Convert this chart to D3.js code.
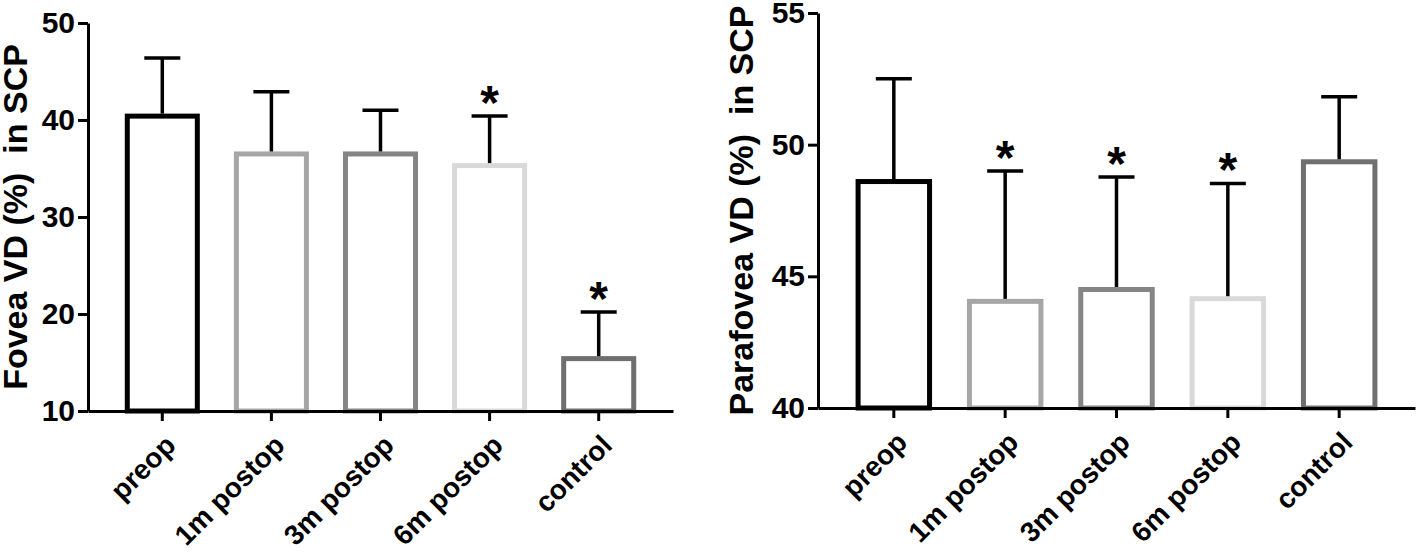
<!DOCTYPE html>
<html>
<head>
<meta charset="utf-8">
<script src="https://cdn.jsdelivr.net/npm/d3@7"></script>
<style>
  body { margin: 0; background: #fff; }
  text { font-family: "Liberation Sans", Arial, sans-serif; font-weight: bold; }
</style>
</head>
<body>
<div id="chart"></div>
<script>
const categories = ["preop", "1m postop", "3m postop", "6m postop", "control"];
const barColors = ["#000000", "#a6a6a6", "#858585", "#d9d9d9", "#6f6f6f"];

const foveaMean = [40.4, 36.5, 36.5, 35.3, 15.4];
const foveaSD = [6.0, 6.4, 4.5, 5.1, 4.8];
const foveaStar = [false, false, false, true, true];
const foveaTicks = [10, 20, 30, 40, 50];

const parafoveaMean = [48.6, 44.05, 44.5, 44.15, 49.35];
const parafoveaSD = [3.9, 4.95, 4.27, 4.38, 2.47];
const parafoveaStar = [false, true, true, true, false];
const parafoveaTicks = [40, 45, 50, 55];

const svg = d3.select("#chart").append("svg").attr("width", 1418).attr("height", 554);

function drawPanel(p) {
  const g = svg.append("g");

  const x = d3.scaleBand().domain(categories).range([p.left, p.right])
    .paddingInner(0.358).paddingOuter(0.36);
  const y = d3.scaleLinear().domain(p.domain).range([p.bottom, p.top]);

  const rows = categories.map((c, i) => ({ cat: c, mean: p.mean[i], sd: p.sd[i], star: p.star[i], color: barColors[i] }));

  // bars
  g.selectAll("rect.bar").data(rows).enter().append("rect")
    .attr("class", "bar")
    .attr("x", d => x(d.cat))
    .attr("y", d => y(d.mean))
    .attr("width", x.bandwidth())
    .attr("height", d => y(p.domain[0]) - y(d.mean))
    .attr("fill", "#fff")
    .attr("stroke", d => d.color)
    .attr("stroke-width", 5);

  // error bars (upper only)
  const cx = d => x(d.cat) + x.bandwidth() / 2;
  g.selectAll("line.err").data(rows).enter().append("line")
    .attr("x1", cx).attr("x2", cx)
    .attr("y1", d => y(d.mean) - 2.5)
    .attr("y2", d => y(d.mean + d.sd))
    .attr("stroke", "#000").attr("stroke-width", 3.5);
  g.selectAll("line.cap").data(rows).enter().append("line")
    .attr("x1", d => cx(d) - 18).attr("x2", d => cx(d) + 18)
    .attr("y1", d => y(d.mean + d.sd))
    .attr("y2", d => y(d.mean + d.sd))
    .attr("stroke", "#000").attr("stroke-width", 3.5);

  // significance stars
  g.selectAll("text.star").data(rows.filter(d => d.star)).enter().append("text")
    .attr("x", cx)
    .attr("y", d => y(d.mean + d.sd) + 3)
    .attr("text-anchor", "middle")
    .style("font-size", "48px")
    .text("*");

  // axes
  const yAxis = g.append("g")
    .attr("transform", "translate(" + p.left + ",0)")
    .call(d3.axisLeft(y).tickValues(p.ticks).tickSize(10).tickSizeOuter(0).tickPadding(3));
  yAxis.selectAll("text").style("font-size", "30px").attr("fill", "#000");

  const xAxis = g.append("g")
    .attr("transform", "translate(0," + p.bottom + ")")
    .call(d3.axisBottom(x).tickSize(10).tickSizeOuter(0));
  xAxis.selectAll("text")
    .style("font-size", "28px").attr("fill", "#000")
    .attr("text-anchor", "end")
    .attr("x", 0).attr("y", 0).attr("dy", 0)
    .attr("transform", "translate(15,36) rotate(-45)");

  svg.selectAll(".domain, .tick line").attr("stroke", "#000").attr("stroke-width", 3);

  g.append("text")
    .attr("transform", "translate(" + p.titleX + "," + (p.top + p.bottom) / 2 + ") rotate(-90)")
    .attr("text-anchor", "middle")
    .style("font-size", "34px")
    .style("white-space", "pre")
    .text(p.title);
}

drawPanel({
  left: 88, right: 673, top: 23, bottom: 411,
  domain: [10, 50], ticks: foveaTicks,
  mean: foveaMean, sd: foveaSD, star: foveaStar,
  title: "Fovea VD (%)  in SCP", titleX: 27
});

drawPanel({
  left: 818, right: 1415, top: 13, bottom: 408,
  domain: [40, 55], ticks: parafoveaTicks,
  mean: parafoveaMean, sd: parafoveaSD, star: parafoveaStar,
  title: "Parafovea VD (%)  in SCP", titleX: 753
});
</script>
</body>
</html>
